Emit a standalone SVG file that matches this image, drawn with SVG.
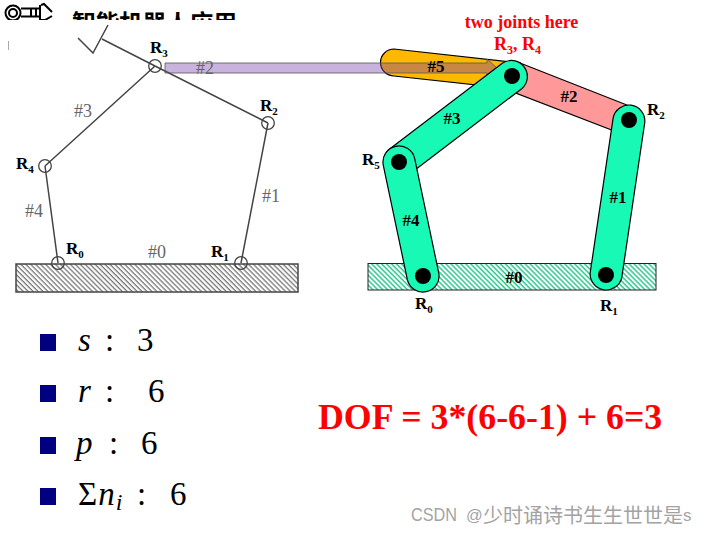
<svg xmlns="http://www.w3.org/2000/svg" width="707" height="535" viewBox="0 0 707 535">
<style>
.s{font-family:"Liberation Serif",serif}
.g{font-size:18px;fill:#666}
.l{font-size:17px;font-weight:bold;fill:#000}
.sub{font-size:11px}
.n{font-size:17px;font-weight:bold;fill:#000;text-anchor:middle}
.b{font-size:33px;fill:#000}
.i{font-style:italic}
.lk{stroke:#444;stroke-width:1.5;fill:none}
.j{stroke:#444;stroke-width:1.3;fill:none}
.bar{stroke:#000;stroke-width:1.2}
.t{fill:#18f9b5}
.p{fill:#000}
.sq{fill:#000080}
</style>
<defs>
<pattern id="h1" width="3.5" height="3.5" patternUnits="userSpaceOnUse" patternTransform="rotate(45)"><rect width="3.5" height="3.5" fill="#fff"/><rect width="3.5" height="1.3" fill="#777"/></pattern>
<pattern id="h2" width="3.5" height="3.5" patternUnits="userSpaceOnUse" patternTransform="rotate(45)"><rect width="3.500" height="3.500" fill="#fff"/><rect width="3.500" height="1.500" fill="#2fc98f"/></pattern>
<clipPath id="c"><rect x="0" y="0" width="260" height="20"/></clipPath>
</defs>

<g id="title" clip-path="url(#c)">
<g fill="none" stroke="#000" stroke-width="2">
<circle cx="13" cy="13" r="7.500"/><circle cx="13" cy="13" r="4"/>
<path d="M21 8.500H40M21 16.500H40M31 8.500V16.500M36 8.500V16.500M40 5V22M41 5L44 4L52 12M41 20H45L52 16"/>
</g>
<text x="72" y="32" font-size="24" font-weight="bold" style="font-family:'Noto Sans CJK SC',sans-serif" textLength="165">智能机器人应用</text>
</g>
<rect id="mark" x="8" y="41" width="1" height="9" fill="#aaa"/>

<g id="left-ground"><rect x="16" y="264" width="282" height="28" fill="url(#h1)" stroke="#444" stroke-width="1.500"/></g>
<g id="left-links">
<path class="lk" d="M58 263L45 166M241 263L268 123M268 123L155 66M155 66L45 166M155 66L102 39"/>
<path class="lk" d="M78 38L93 53L108 25"/>
</g>
<g id="left-joints">
<circle class="j" cx="155" cy="66" r="6.300"/><circle class="j" cx="268" cy="123" r="6.300"/><circle class="j" cx="45" cy="166" r="6.300"/><circle class="j" cx="58" cy="263" r="6.300"/><circle class="j" cx="241" cy="263" r="6.300"/>
</g>

<g id="link-0"><rect x="368" y="263.500" width="288" height="26.500" fill="url(#h2)" stroke="#222" stroke-width="1"/></g>
<g id="link-5"><path class="bar" fill="#fdb900" d="M394 49L520 63L505 88L394 76A13.500 13.500 0 0 1 394 49Z"/></g>
<g id="link-2"><path class="bar" fill="#ff9999" d="M520 63L632 107L622 134L508 90Z"/></g>
<g id="arrow-overlay"><path d="M165 63H487V59L497 68L487 77V73H165Z" fill="#783ea7" fill-opacity=".4" stroke="#555" stroke-width="0.800"/></g>
<g id="link-3"><path class="bar t" d="M502.300 63.300A16 16 0 0 1 521.700 88.700L408.700 174.700A16 16 0 0 1 389.300 149.300Z"/></g>
<g id="link-1"><path class="bar t" d="M613.200 117.700A16 16 0 0 1 644.800 122.300L621.800 277.300A16 16 0 0 1 590.200 272.700Z"/></g>
<g id="link-4"><path class="bar t" d="M383.300 165.300A16 16 0 0 1 414.700 158.700L438.700 272.700A16 16 0 0 1 407.300 279.300Z"/></g>
<g id="pins">
<circle class="p" cx="512" cy="76" r="8"/><circle class="p" cx="629" cy="120" r="8"/><circle class="p" cx="399" cy="162" r="8"/><circle class="p" cx="423" cy="276" r="8"/><circle class="p" cx="606" cy="275" r="8"/>
</g>

<g id="left-labels" class="s">
<text class="g" x="196" y="74">#2</text><text class="g" x="74" y="117">#3</text><text class="g" x="262" y="202">#1</text><text class="g" x="25" y="217">#4</text><text class="g" x="148" y="258">#0</text>
<text class="l" x="150" y="53">R<tspan class="sub" dy="4">3</tspan></text>
<text class="l" x="260" y="111">R<tspan class="sub" dy="4">2</tspan></text>
<text class="l" x="16" y="169">R<tspan class="sub" dy="4">4</tspan></text>
<text class="l" x="66" y="254">R<tspan class="sub" dy="4">0</tspan></text>
<text class="l" x="211" y="257">R<tspan class="sub" dy="4">1</tspan></text>
</g>
<g id="right-labels" class="s">
<text class="n" x="436" y="72">#5</text><text class="n" x="569" y="102">#2</text><text class="n" x="452" y="124">#3</text><text class="n" x="618" y="203">#1</text><text class="n" x="411" y="226">#4</text><text class="n" x="514" y="283">#0</text>
<text x="521.500" y="28" font-size="18" font-weight="bold" fill="#f00" text-anchor="middle">two joints here</text>
<text x="494" y="50" font-size="18" font-weight="bold" fill="#f00">R<tspan font-size="12" dy="4">3</tspan><tspan dy="-4">, R</tspan><tspan font-size="12" dy="4">4</tspan></text>
<text class="l" x="647" y="115">R<tspan class="sub" dy="4">2</tspan></text>
<text class="l" x="362" y="165">R<tspan class="sub" dy="4">5</tspan></text>
<text class="l" x="415" y="309">R<tspan class="sub" dy="4">0</tspan></text>
<text class="l" x="600" y="311">R<tspan class="sub" dy="4">1</tspan></text>
</g>

<g id="bullets" class="s">
<rect class="sq" x="40" y="334" width="16" height="17"/>
<rect class="sq" x="40" y="385" width="16" height="17"/>
<rect class="sq" x="40" y="437" width="16" height="17"/>
<rect class="sq" x="40" y="488" width="16" height="17"/>
<text class="b" x="78" y="351"><tspan class="i">s</tspan></text><text class="b" x="105" y="351">:</text><text class="b" x="137" y="351">3</text>
<text class="b" x="78" y="402"><tspan class="i">r</tspan></text><text class="b" x="105" y="402">:</text><text class="b" x="148" y="402">6</text>
<text class="b" x="76" y="454"><tspan class="i">p</tspan></text><text class="b" x="109" y="454">:</text><text class="b" x="141" y="454">6</text>
<text class="b" x="78" y="505">Σ<tspan class="i" dx="1">n</tspan><tspan class="i" font-size="24" dx="1" dy="5">i</tspan></text><text class="b" x="137" y="505">:</text><text class="b" x="170" y="505">6</text>
</g>

<g id="dof" class="s"><text x="318" y="429" font-size="35.800" font-weight="bold" fill="#f00">DOF = 3*(6-6-1) + 6=3</text></g>
<g id="watermark" fill="#a3a3a3" style="font-family:'Liberation Sans','Noto Sans CJK SC',sans-serif"><text x="411" y="521" font-size="18" textLength="46" lengthAdjust="spacingAndGlyphs">CSDN</text><text x="466" y="521" font-size="16.500">@</text><text x="483" y="523" font-size="20">少时诵诗书生生世世是</text><text x="683" y="521" font-size="17">s</text></g>
</svg>
